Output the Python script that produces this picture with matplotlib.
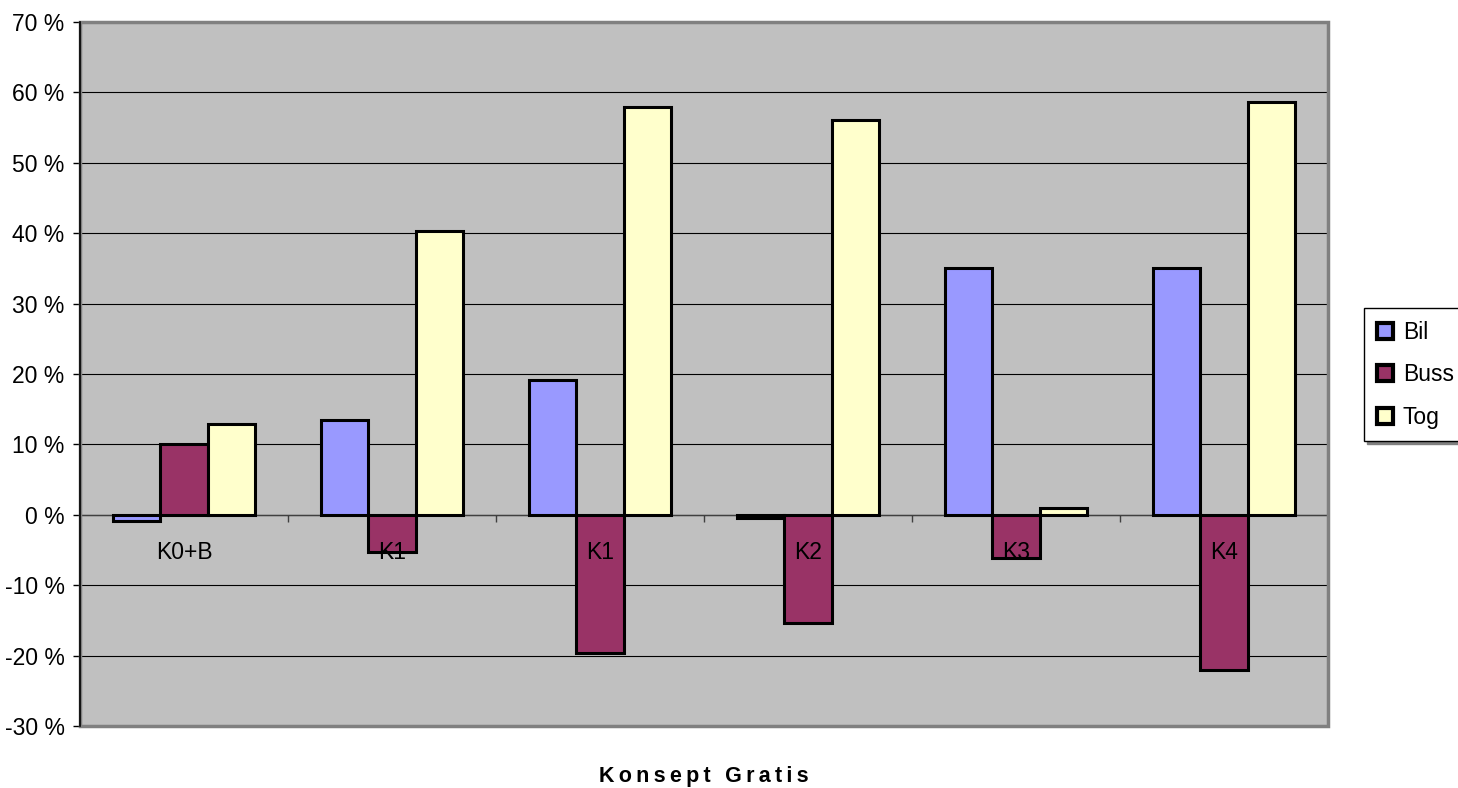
import matplotlib
matplotlib.use("Agg")
import matplotlib.pyplot as plt
from matplotlib.patches import Patch, Rectangle
from matplotlib.ticker import FuncFormatter
import numpy as np

plt.rcParams['font.family'] = ['Liberation Sans', 'DejaVu Sans']

# change per concept, in percent
categories = ["K0+B", "K1", "K1", "K2", "K3", "K4"]
bil = [-0.9, 13.4, 19.1, -0.5, 35.0, 35.0]
buss = [10.0, -5.3, -19.6, -15.3, -6.2, -22.0]
tog = [12.9, 40.3, 57.9, 56.1, 1.0, 58.6]

series = [("Bil", bil, "#9999FF"), ("Buss", buss, "#993366"), ("Tog", tog, "#FFFFCC")]

fig = plt.figure(figsize=(14.58, 7.88), dpi=100)
ax = fig.add_axes([80 / 1458, 62 / 788, 1248 / 1458, 704 / 788])
ax.set_facecolor("#C0C0C0")

x = np.arange(len(categories))
width = 0.228

for i, (name, vals, col) in enumerate(series):
    ax.bar(x + (i - 1) * width, vals, width, color=col, edgecolor="black",
           linewidth=2.2, zorder=3, label=name)

ax.set_xlim(-0.5, len(categories) - 0.5)
ax.set_ylim(-30, 70)

# y axis
ax.set_yticks(np.arange(-30, 71, 10))
ax.yaxis.set_major_formatter(FuncFormatter(lambda v, p: f"{int(v)} %"))
ax.tick_params(axis="y", direction="out", length=5, width=1, pad=6,
               labelsize=16.5, colors="black")
ax.yaxis.grid(True, color="black", linewidth=0.8, zorder=1)

# category axis sits at zero, ticks between groups
ax.spines["bottom"].set_position(("data", 0))
ax.spines["bottom"].set_color("#404040")
ax.spines["bottom"].set_linewidth(1)
ax.spines["bottom"].set_zorder(2)
ax.set_xticks(np.arange(-0.5, len(categories), 1.0))
ax.set_xticklabels([])
ax.tick_params(axis="x", direction="out", length=5, width=1, color="#404040")

for xi, lab in zip(x, categories):
    ax.annotate(lab, (xi, 0), xytext=(0, -27), textcoords="offset points",
                ha="center", va="center", fontsize=16.5, zorder=4)

ax.spines["top"].set_visible(False)
ax.spines["right"].set_visible(False)
ax.spines["left"].set_linewidth(1.2)
ax.spines["left"].set_zorder(5)

# grey plot frame
ax.add_patch(Rectangle((0, 0), 1, 1, transform=ax.transAxes, fill=False,
                       edgecolor="#808080", linewidth=2.5, zorder=4, clip_on=False))

ax.text(0.5, -0.072, "\u2009".join("Konsept Gratis"), transform=ax.transAxes,
        ha="center", va="center", fontsize=15.5, fontweight="bold")

handles = [Patch(facecolor=c, edgecolor="black", linewidth=3) for _, _, c in series]
leg = fig.legend(handles, [s[0] for s in series], loc="upper left",
                 bbox_to_anchor=(1364 / 1458, 1 - 308 / 788), fontsize=16.5,
                 frameon=True, fancybox=False, edgecolor="black",
                 handlelength=0.7, handleheight=0.7, handletextpad=0.45,
                 labelspacing=0.85, borderpad=0.55, borderaxespad=0,
                 shadow={"color": "0.5", "alpha": 1})
leg.get_frame().set_linewidth(1)

fig.savefig("out.png", dpi=100)
